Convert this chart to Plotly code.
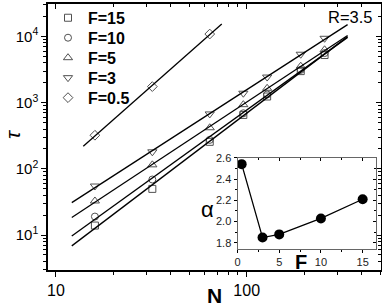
import numpy as np
import plotly.graph_objects as go

# ---------------- data ----------------
N_main = [16, 32, 64, 96, 128, 192, 256]
N_small = [16, 32, 64]

tau_F15 = [13.9, 49.8, 256, 653, 1240, 3000, 5250]
tau_F10 = [19.0, 69.0, 274, 692, 1330, 3130, 5620]
tau_F5 = [32.7, 115, 418, 933, 1650, 3560, 6300]
tau_F3 = [55.0, 181, 676, 1390, 2440, 5400, 9400]
tau_F05 = [322, 1750, 10900]

series_labels = ["F=15", "F=10", "F=5", "F=3", "F=0.5"]

F_inset = [0.5, 3, 5, 10, 15]
alpha_inset = [2.54, 1.85, 1.88, 2.03, 2.21]

x_tickvals = [10, 100]
x_ticktext = ["10", "100"]
y_tickvals = [10, 100, 1000, 10000]
y_ticktext = ["10<sup>1</sup>", "10<sup>2</sup>", "10<sup>3</sup>", "10<sup>4</sup>"]

fit_range_main = (12.1, 338)
fit_range_small = (13.9, 74)

# ---------------- styling ----------------
FONT = "Arial, Liberation Sans, Helvetica, sans-serif"
MK_COLOR = "#505050"
symbols = ["square-open", "circle-open", "triangle-up-open", "triangle-down-open", "diamond-open"]
sizes = [7, 7, 8, 8, 7.5]

W, H = 382, 307
ML, MR, MT, MB = 48, 1, 1, 37
PH = H - MT - MB

def py2paper(py):
    return 1 - (py - MT) / PH

def px2paper(px):
    return (px - ML) / (W - ML - MR)

series = [
    (N_main, tau_F15, fit_range_main),
    (N_main, tau_F10, fit_range_main),
    (N_main, tau_F5, fit_range_main),
    (N_main, tau_F3, fit_range_main),
    (N_small, tau_F05, fit_range_small),
]

fig = go.Figure()
legend_names = ["legend", "legend2", "legend3", "legend4", "legend5"]

for (nv, tv, fr), lab, sym, sz, lg in zip(series, series_labels, symbols, sizes, legend_names):
    # power-law fit in log space
    slope, icpt = np.polyfit(np.log10(nv), np.log10(tv), 1)
    xf = np.array(fr, dtype=float)
    yf = 10 ** (icpt + slope * np.log10(xf))
    fig.add_trace(go.Scatter(x=xf, y=yf, mode="lines", xaxis="x2", yaxis="y2",
                             line=dict(color="black", width=1.3),
                             showlegend=False, hoverinfo="skip"))
    fig.add_trace(go.Scatter(x=nv, y=tv, mode="markers", name=lab, legend=lg,
                             marker=dict(symbol=sym, size=sz, color=MK_COLOR,
                                         line=dict(color=MK_COLOR, width=1))))

# inset
fig.add_trace(go.Scatter(x=F_inset, y=alpha_inset, mode="lines", xaxis="x3", yaxis="y3",
                         line=dict(color="black", width=1.3), showlegend=False))
fig.add_trace(go.Scatter(x=F_inset, y=alpha_inset, mode="markers", xaxis="x4", yaxis="y4",
                         marker=dict(symbol="circle", size=10, color="black"), showlegend=False))

# minor tick positions for log axes
x_minor = [m * 10 ** k for k in range(0, 3) for m in range(2, 10)]
y_minor = [m * 10 ** k for k in range(0, 5) for m in range(2, 10)]

xr = [np.log10(9.08), np.log10(506)]
yr = [np.log10(2.96), np.log10(31000)]

common_line = dict(showline=True, linecolor="black", linewidth=1.5, showgrid=False,
                   zeroline=False, automargin=False)
inset_line = dict(showline=True, linecolor="#666666", linewidth=1, showgrid=False,
                  zeroline=False, automargin=False)

legend_layout = {}
for i, lg in enumerate(legend_names):
    legend_layout[lg] = dict(x=0.0, y=py2paper(15 + 20.2 * i), xanchor="left", yanchor="middle",
                             bgcolor="rgba(0,0,0,0)",
                             font=dict(size=16, family=FONT, weight="bold"))

fig.update_layout(
    width=W, height=H,
    margin=dict(l=ML, r=MR, t=MT, b=MB),
    paper_bgcolor="white", plot_bgcolor="white",
    font=dict(family=FONT, color="black"),
    showlegend=True,
    xaxis=dict(type="log", range=xr, tickvals=x_tickvals, ticktext=x_ticktext,
               ticks="outside", ticklen=5, tickwidth=1, tickcolor="black",
               minor=dict(tickvals=x_minor, ticks="outside", ticklen=3, tickcolor="black"),
               tickfont=dict(size=16),
               title=dict(text="<b>N</b>", font=dict(size=21), standoff=3),
               anchor="y", **common_line),
    xaxis2=dict(type="log", range=xr, overlaying="x", matches="x", side="top", anchor="y",
                tickvals=x_tickvals, ticks="inside", ticklen=5, tickcolor="black", showticklabels=False,
                minor=dict(tickvals=x_minor, ticks="inside", ticklen=3, tickcolor="black"),
                **common_line),
    yaxis=dict(type="log", range=yr, tickvals=y_tickvals, ticktext=y_ticktext,
               ticks="outside", ticklen=5, tickwidth=1, tickcolor="black",
               minor=dict(tickvals=y_minor, ticks="outside", ticklen=3, tickcolor="black"),
               tickfont=dict(size=15),
               anchor="x", **common_line),
    yaxis2=dict(type="log", range=yr, overlaying="y", matches="y", side="right", anchor="x",
                tickvals=y_tickvals, ticks="inside", ticklen=5, tickcolor="black", showticklabels=False,
                minor=dict(tickvals=y_minor, ticks="inside", ticklen=3, tickcolor="black"),
                **common_line),
    xaxis3=dict(domain=[px2paper(237.5), px2paper(376)], anchor="y3", range=[0, 16.6], dtick=5, tick0=0,
                ticks="outside", ticklen=3, tickcolor="black",
                minor=dict(dtick=2.5, ticks="outside", ticklen=2, tickcolor="black"),
                tickfont=dict(size=11, color="#222222"),
                **inset_line),
    yaxis3=dict(domain=[py2paper(248.5), py2paper(156.5)], anchor="x3", range=[1.745, 2.6],
                dtick=0.2, tick0=1.8,
                tickformat=".1f", ticks="outside", ticklen=3, tickcolor="black",
                minor=dict(dtick=0.1, ticks="outside", ticklen=2, tickcolor="black"),
                tickfont=dict(size=11, color="#222222"),
                **inset_line),
    xaxis4=dict(overlaying="x3", matches="x3", anchor="y3", side="top", range=[0, 16.6],
                dtick=5, tick0=0, ticks="inside", ticklen=3, tickcolor="black", showticklabels=False,
                minor=dict(dtick=2.5, ticks="inside", ticklen=2, tickcolor="black"),
                **inset_line),
    yaxis4=dict(overlaying="y3", matches="y3", anchor="x3", side="right", range=[1.745, 2.6],
                dtick=0.2, tick0=1.8, ticks="inside", ticklen=3, tickcolor="black", showticklabels=False,
                minor=dict(dtick=0.1, ticks="inside", ticklen=2, tickcolor="black"),
                **inset_line),
    annotations=[
        dict(text="R=3.5", x=px2paper(375), y=py2paper(14), xref="paper", yref="paper",
             xanchor="right", yanchor="middle", showarrow=False,
             font=dict(size=16.5, family=FONT)),
        dict(text="<i>τ</i>", x=px2paper(0), y=py2paper(133), xref="paper", yref="paper",
             xanchor="left", yanchor="middle", showarrow=False, textangle=-90, borderpad=0,
             font=dict(size=21, family=FONT)),
        dict(text="α", x=px2paper(207), y=py2paper(209), xref="paper", yref="paper",
             xanchor="center", yanchor="middle", showarrow=False,
             font=dict(size=22, family=FONT)),
        dict(text="<b>F</b>", x=px2paper(301), y=py2paper(262), xref="paper", yref="paper",
             xanchor="center", yanchor="middle", showarrow=False,
             font=dict(size=20, family=FONT)),
    ],
    **legend_layout,
)

fig.write_html("out.html", config={"displayModeBar": False},
               post_script="document.body.style.margin='0';document.body.style.overflow='hidden';")
